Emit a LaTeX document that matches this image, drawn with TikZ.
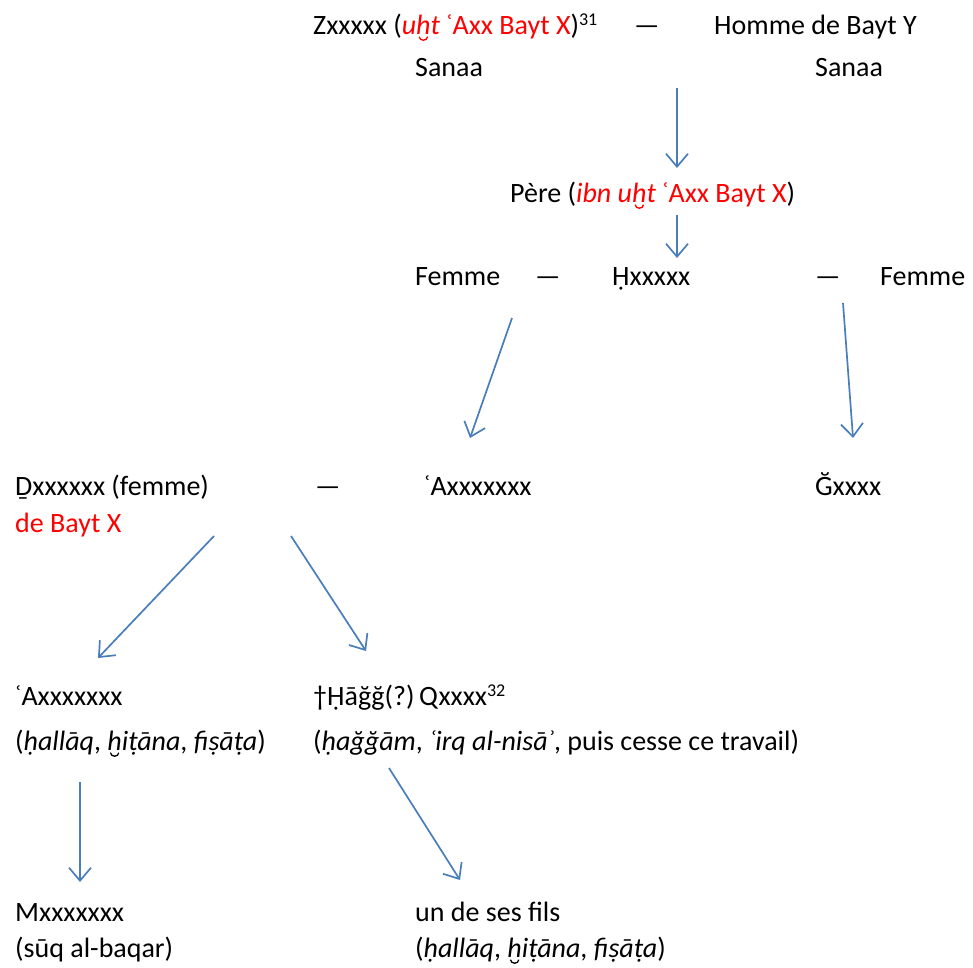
\documentclass[tikz,border=0pt]{standalone}
\usepackage{fontspec}
\setmainfont{Carlito}
\usetikzlibrary{arrows.meta}
\definecolor{arrowblue}{HTML}{4A7EBB}
\definecolor{redtxt}{HTML}{FF0000}
\newcommand{\rd}[1]{\textcolor{redtxt}{#1}}
% h with a breve below, the breve drawn as a small arc that takes no room
\newcommand{\hbr}[1][black]{\ooalign{h\cr\hidewidth\smash{\tikz[x=1pt,y=1pt,baseline=0pt]
  \draw[#1,line width=1.3pt,line cap=round] (-4,-3) arc[start angle=180,end angle=360,x radius=4,y radius=3.2];}\hidewidth\cr}}
\newcommand{\sups}[1]{\raisebox{9pt}{\fontsize{18}{18}\selectfont #1}}
\begin{document}
\begin{tikzpicture}[x=1pt,y=-1pt,
  lbl/.style={anchor=base west, inner sep=0pt, font=\fontsize{28}{34}\selectfont},
  link/.style={draw=arrowblue, line width=1.7pt,
    -{Straight Barb[length=13pt,width=22pt,line width=1.7pt]}}]
\useasboundingbox (0,0) rectangle (973,967);

% generation 1
\node[lbl] (zx) at (313,34) {Zxxxxx (\rd{\textit{u\hbr[redtxt]t} ʿAxx Bayt X})\sups{31}};
\node[lbl] (d1) at (634,34) {—};
\node[lbl] (hm) at (714,34) {Homme de Bayt Y};
\node[lbl] (s1) at (415,76) {Sanaa};
\node[lbl] (s2) at (815,76) {Sanaa};

% generation 2
\node[lbl] (pe) at (510,202) {Père (\rd{\textit{ibn u\hbr[redtxt]t} ʿAxx Bayt X})};

% generation 3
\node[lbl] (f1) at (415,285) {Femme};
\node[lbl] (d2) at (535,285) {—};
\node[lbl] (hx) at (612,285) {Ḥxxxxx};
\node[lbl] (d3) at (815,285) {—};
\node[lbl] (f2) at (880,285) {Femme};

% generation 4
\node[lbl] (dx) at (15,495) {Ḏxxxxxx (femme)};
\node[lbl] (bx) at (15,532) {\rd{de Bayt X}};
\node[lbl] (d4) at (315,495) {—};
\node[lbl] (ax) at (424,495) {ʿAxxxxxxx};
\node[lbl] (gx) at (815,495) {Ğxxxx};

% generation 5
\node[lbl] (a2) at (15,705) {ʿAxxxxxxx};
\node[lbl] (a2m) at (15,750) {(\textit{ḥallāq}, \textit{\hbr iṭāna}, \textit{fiṣāṭa})};
\node[lbl] (hq) at (313,705) {†Ḥāğğ(?)\,Qxxxx\sups{32}};
\node[lbl] (hqm) at (313,750) {(\textit{ḥağğām}, \textit{ʿirq al-nisāʾ}, puis cesse ce travail)};

% generation 6
\node[lbl] (mx) at (15,921) {Mxxxxxxx};
\node[lbl] (mxm) at (15,957) {(sūq al-baqar)};
\node[lbl] (fs) at (415,921) {un de ses fils};
\node[lbl] (fsm) at (415,957) {(\textit{ḥallāq}, \textit{\hbr iṭāna}, \textit{fiṣāṭa})};

% arrow end points
\coordinate (a1s) at (677,88);  \coordinate (a1e) at (677,168);
\coordinate (a2s) at (677,215); \coordinate (a2e) at (677,258);
\coordinate (a3s) at (512,318); \coordinate (a3e) at (470,438);
\coordinate (a4s) at (843,303); \coordinate (a4e) at (853,438);
\coordinate (a5s) at (214,536); \coordinate (a5e) at (98,658);
\coordinate (a6s) at (291,536); \coordinate (a6e) at (366,651);
\coordinate (a7s) at (80,782);  \coordinate (a7e) at (80,882);
\coordinate (a8s) at (389,768); \coordinate (a8e) at (460,880);

\draw[link] (a1s) -- (a1e);
\draw[link] (a2s) -- (a2e);
\draw[link] (a3s) -- (a3e);
\draw[link] (a4s) -- (a4e);
\draw[link] (a5s) -- (a5e);
\draw[link] (a6s) -- (a6e);
\draw[link] (a7s) -- (a7e);
\draw[link] (a8s) -- (a8e);
\end{tikzpicture}
\end{document}
